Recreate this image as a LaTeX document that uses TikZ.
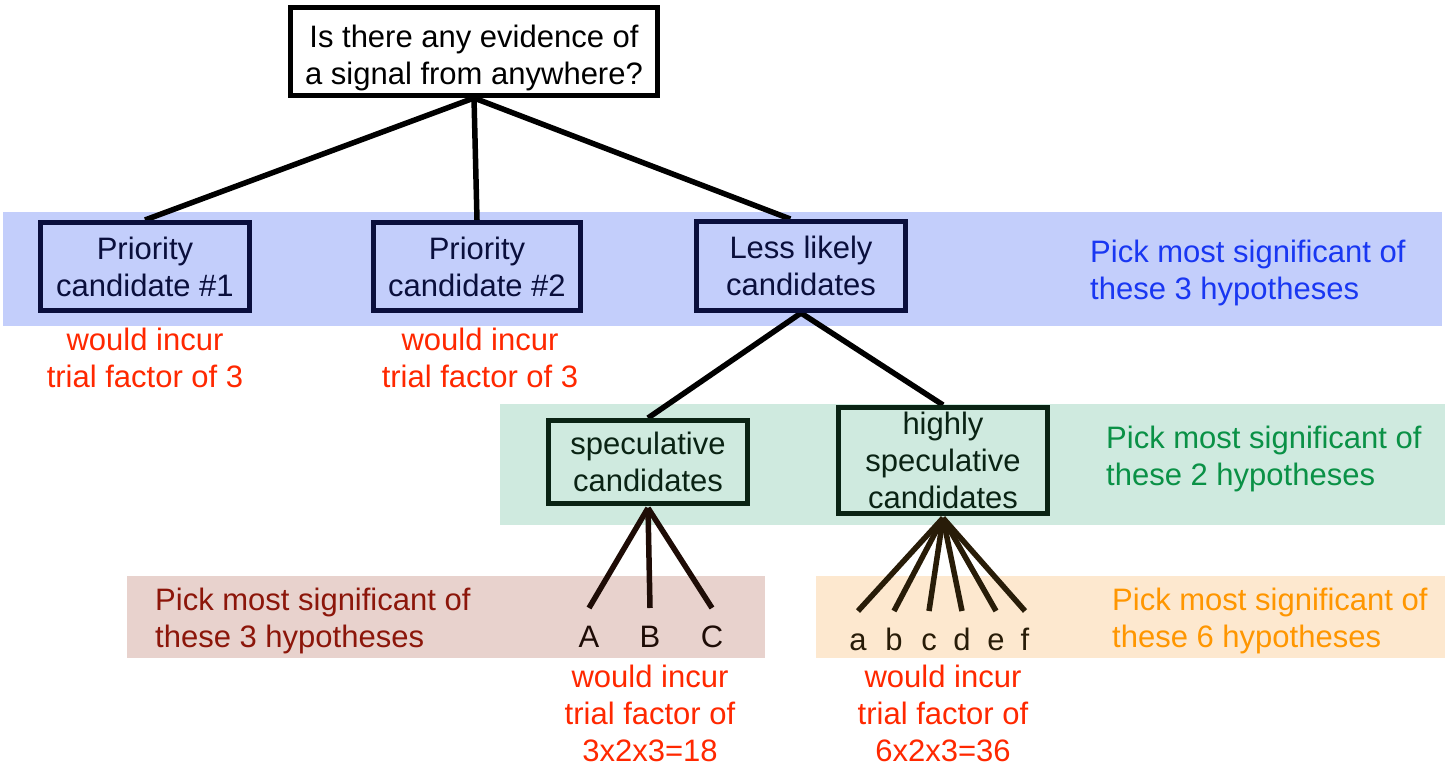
\documentclass[tikz,border=0pt]{standalone}
\usepackage{fontspec}
\setmainfont{Liberation Sans}
\usetikzlibrary{calc}
\definecolor{bandblue}{RGB}{195,206,251}
\definecolor{bandgreen}{RGB}{207,234,223}
\definecolor{bandbrown}{RGB}{232,210,205}
\definecolor{bandorange}{RGB}{253,232,207}
\definecolor{txtblue}{RGB}{25,55,242}
\definecolor{txtgreen}{RGB}{10,145,70}
\definecolor{txtbrown}{RGB}{140,22,10}
\definecolor{txtorange}{RGB}{255,150,0}
\definecolor{txtred}{RGB}{255,40,0}
\definecolor{navy}{RGB}{10,15,60}
\definecolor{dkgreen}{RGB}{10,35,20}
\definecolor{dkbrown}{RGB}{30,12,6}
\definecolor{dkorange}{RGB}{40,28,8}
\pgfdeclarelayer{bands}
\pgfdeclarelayer{lines}
\pgfsetlayers{bands,lines,main}
\begin{document}
\begin{tikzpicture}[x=1pt,y=-1pt,
  every node/.style={font=\fontsize{31}{37}\selectfont, align=center, inner sep=0pt},
  qbox/.style={draw, line width=5pt, fill=white},
  bluebox/.style={draw=navy, text=navy, line width=5pt, fill=bandblue},
  greenbox/.style={draw=dkgreen, text=dkgreen, line width=5pt, fill=bandgreen},
  conn/.style={line width=5.5pt},
  note/.style={text=txtred},
  bandtext/.style={anchor=west, align=left},
  leaf/.style={anchor=north, text height=39pt, text depth=0pt}
]
\useasboundingbox (0,0) rectangle (1445,767);
% bands
\begin{pgfonlayer}{bands}
\fill[bandblue] (3,212) rectangle (1442,326);
\fill[bandgreen] (500,404) rectangle (1445,525);
\fill[bandbrown] (127,576) rectangle (765,658);
\fill[bandorange] (816,576) rectangle (1445,658);
\end{pgfonlayer}

% boxes
\node[qbox, minimum width=367, minimum height=88] (top) at (474,51.5) {\rule{0pt}{36pt}Is there any evidence of\\a signal from anywhere?};
\node[bluebox, minimum width=209, minimum height=88] (p1) at (145,266.5) {Priority\\candidate \#1};
\node[bluebox, minimum width=207, minimum height=88] (p2) at (477,266.5) {Priority\\candidate \#2};
\node[bluebox, minimum width=209, minimum height=89] (ll) at (801,266) {Less likely\\candidates};
\node[greenbox, minimum width=199, minimum height=83] (spec) at (648,462) {speculative\\candidates};
\node[greenbox, minimum width=209, minimum height=106] (high) at (943,460.5) {highly\\speculative\\candidates};

% connectors
\begin{pgfonlayer}{lines}
\draw[conn] (top.south) -- (p1.north);
\draw[conn] (top.south) -- (p2.north);
\draw[conn] (top.south) -- ($(ll.north west)!0.45!(ll.north east)$);
\draw[conn] (ll.south) -- (spec.north);
\draw[conn] (ll.south) -- (high.north);
\end{pgfonlayer}

% notes under level 1
\node[note] (n1) at (145,358) {would incur\\trial factor of 3};
\node[note] (n2) at (480,358) {would incur\\trial factor of 3};

% band texts
\node[bandtext, text=txtblue] (b1) at (1090,273) {Pick most significant of\\these 3 hypotheses};
\node[bandtext, text=txtgreen] (b2) at (1106,459) {Pick most significant of\\these 2 hypotheses};
\node[bandtext, text=txtbrown] (b3) at (155,621) {Pick most significant of\\these 3 hypotheses};
\node[bandtext, text=txtorange] (b4) at (1112,621) {Pick most significant of\\these 6 hypotheses};

% leaves A B C
\node[leaf, text=dkbrown] (A) at (589,608) {A};
\node[leaf, text=dkbrown] (B) at (650,608) {B};
\node[leaf, text=dkbrown] (C) at (712,608) {C};
\foreach \l in {A,B,C} \draw[conn, dkbrown] ($(spec.south)+(0,2)$) -- (\l.north);

% leaves a-f
\node[leaf, text=dkorange] (la) at (858,611) {a};
\node[leaf, text=dkorange] (lb) at (894,611) {b};
\node[leaf, text=dkorange] (lc) at (929,611) {c};
\node[leaf, text=dkorange] (ld) at (962,611) {d};
\node[leaf, text=dkorange] (le) at (996,611) {e};
\node[leaf, text=dkorange] (lf) at (1025,611) {f};
\foreach \l in {la,lb,lc,ld,le,lf} \draw[conn, dkorange] ($(high.south)+(0,2)$) -- (\l.north);

% notes at bottom
\node[note] (n3) at (650,713) {would incur\\trial factor of\\3x2x3=18};
\node[note] (n4) at (943,713) {would incur\\trial factor of\\6x2x3=36};
\end{tikzpicture}
\end{document}
